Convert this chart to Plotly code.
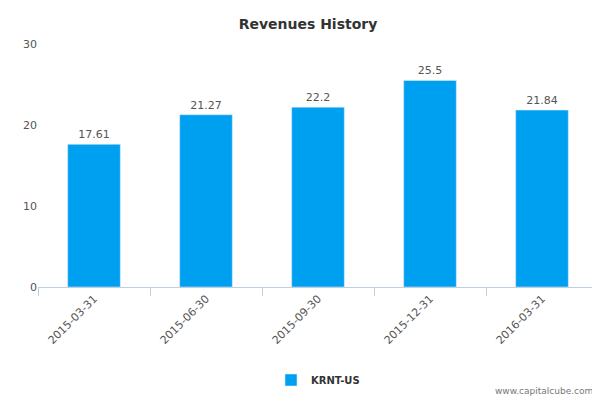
import plotly.graph_objects as go

categories = ["2015-03-31", "2015-06-30", "2015-09-30", "2015-12-31", "2016-03-31"]
values = [17.61, 21.27, 22.2, 25.5, 21.84]
labels = ["17.61", "21.27", "22.2", "25.5", "21.84"]
series_name = "KRNT-US"

fig = go.Figure(go.Bar(
    x=categories, y=values, name="<b>" + series_name + "</b>", text=labels,
    textposition="outside", textfont=dict(size=11, color="#555"),
    marker_color="#00a0f0", cliponaxis=False, showlegend=True))

fig.update_layout(
    width=600, height=400, plot_bgcolor="white", paper_bgcolor="white",
    margin=dict(l=30, r=10, t=36, b=121, autoexpand=False),
    font=dict(family="DejaVu Sans, Arial", color="#555"),
    title=dict(text="<b>Revenues History</b>", x=0.5, y=0.96, xanchor="center",
               yanchor="middle", yref="container", font=dict(size=14, color="#333")),
    bargap=0.53,
    xaxis=dict(type="category", tickangle=-45, ticks="outside", tickson="boundaries",
               ticklen=8, tickcolor="#c0d0e0", showline=True, linecolor="#c0d0e0",
               tickfont=dict(size=11, color="#555")),
    yaxis=dict(range=[0, 30], tickvals=[0, 10, 20, 30], showgrid=False, zeroline=False,
               tickfont=dict(size=11, color="#555")),
    legend=dict(orientation="h", x=0.5, xanchor="center", y=0.07, yanchor="middle",
                yref="container", font=dict(size=10, color="#333")),
)
fig.add_annotation(text="www.capitalcube.com", xref="paper", yref="paper", x=0.995, y=-0.43,
                   xanchor="right", yanchor="middle", showarrow=False,
                   font=dict(size=9, color="#777"))
fig.write_html("out.html")
